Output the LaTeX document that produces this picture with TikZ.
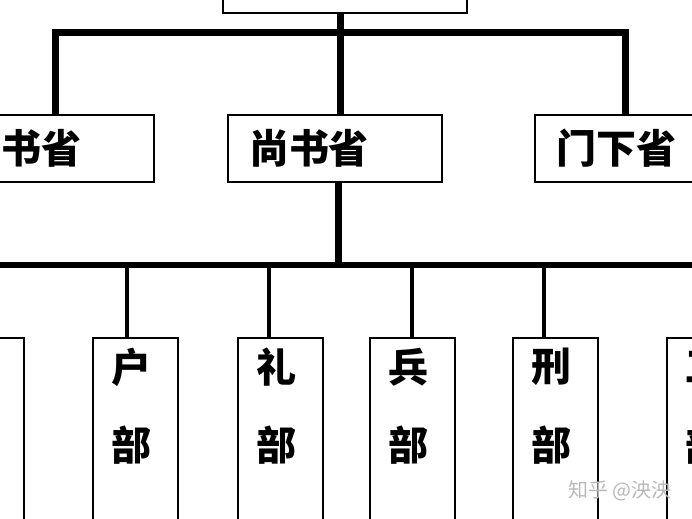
\documentclass[tikz,border=0pt]{standalone}
\usepackage{fontspec}
\newfontfamily\cjk{Noto Sans CJK SC}
\newcommand{\officefont}{\cjk\bfseries\fontsize{20pt}{24pt}\selectfont}
\newcommand{\markfont}{\cjk\fontsize{10pt}{12pt}\selectfont}
\usetikzlibrary{calc}
\tikzset{
  box/.style={draw, line width=1pt, fill=white, inner sep=0pt},
  office/.style={box, anchor=north west, text width=86pt, inner xsep=10.5pt,
    minimum height=33.5pt, align=left, font=\officefont},
  bureau/.style={box, anchor=north west, minimum width=42.5pt, minimum height=120pt},
  glyph/.style={font=\officefont, inner sep=0pt},
  trunk/.style={line width=3.5pt, line join=miter},
  drop/.style={line width=2pt},
}

\begin{document}
\begin{tikzpicture}[x=0.5pt, y=-0.5pt]
  \useasboundingbox (0,0) rectangle (692,519);
  \clip (0,0) rectangle (692,519);
  \fill[white] (0,0) rectangle (692,519);
  % the court at the top, only its lower edge shows
  \node[box, anchor=south west, minimum width=122pt, minimum height=40pt] (court) at (222,14) {};
  % three departments
  \node[office] (zhong)  at (-61,114) {中书省};
  \node[office] (shang)  at (227,114) {尚书省};
  \node[office] (menxia) at (534,114) {门下省};
  \coordinate (hub) at (340,33);
  \coordinate (zL) at (55,33);
  \coordinate (mR) at (625,33);
  \draw[trunk] (zL |- zhong.north) -- (zL) -- (mR) -- (mR |- menxia.north);
  \draw[trunk] (hub |- court.south) -- (hub |- shang.north);
  % six ministries under the shangshu department
  \coordinate (sub) at (338,265);
  \coordinate (barL) at (-30,265);
  \coordinate (barR) at (730,265);
  \draw[trunk] (sub |- shang.south) -- (sub);
  \draw[trunk, line width=3pt] (barL) -- (barR);
  \foreach \l/\d/\n/\c in {-62/-20/li0/吏, 92/127/hu/户, 237/269/li/礼,
      369/412/bing/兵, 512/544/xing/刑, 666/708/gong/工} {
    \node[bureau] (\n) at (\l,337) {};
    \node[glyph] (\n-a) at ([xshift=-2pt, yshift=-15pt]\n.north) {\c};
    \node[glyph] (\n-b) at ([yshift=-39pt]\n-a.center) {部};
    \coordinate (d\n) at (\d,265);
    \draw[drop] (d\n) -- (d\n |- \n.north);
  }
  \node[font=\markfont, text=gray!55, inner sep=0pt] (mark) at (620,491) {知乎 @泱泱};
\end{tikzpicture}
\end{document}
